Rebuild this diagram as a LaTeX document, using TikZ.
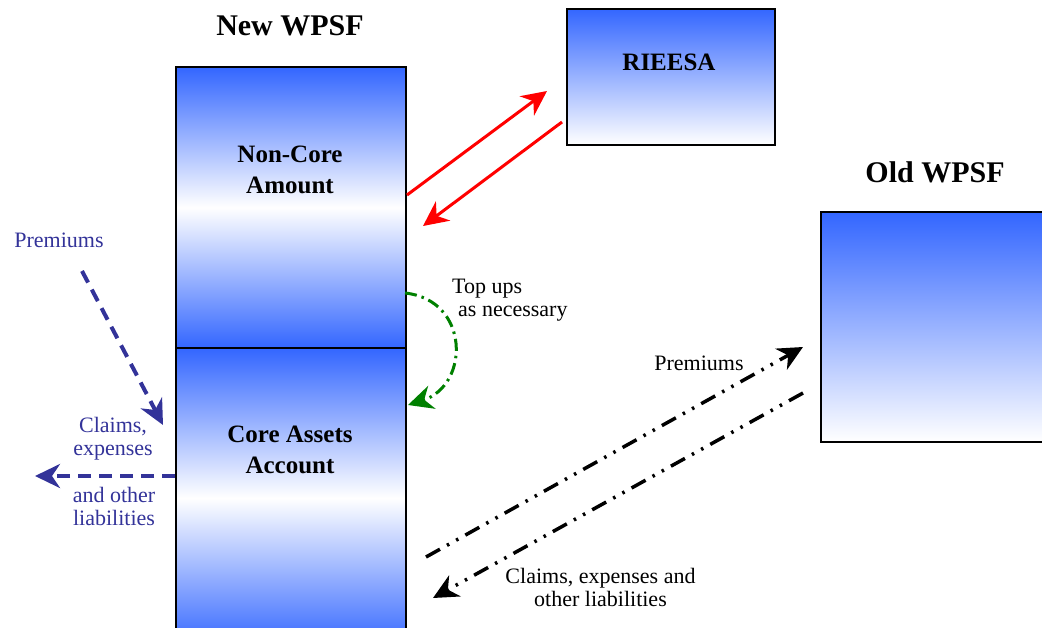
\documentclass[tikz,border=0pt]{standalone}
\usepackage{fontspec}
\setmainfont{Liberation Serif}
\usetikzlibrary{arrows.meta}
\definecolor{fundblue}{RGB}{51,102,255}
\definecolor{flowblue}{RGB}{51,51,153}
\definecolor{flowgreen}{RGB}{0,128,0}
\definecolor{flowred}{RGB}{255,0,0}
\begin{document}
\begin{tikzpicture}[x=1pt,y=-1pt,
  fund/.style={draw=black,line width=2pt,inner sep=0pt,anchor=north west},
  title/.style={font=\fontsize{30}{34}\selectfont\bfseries,inner sep=0pt},
  boxlabel/.style={font=\fontsize{25}{30.5}\selectfont\bfseries,align=center,inner sep=0pt},
  note/.style={font=\fontsize{22}{22.5}\selectfont,align=center,inner sep=0pt},
  tip/.style={-{Stealth[length=25pt,width=24pt,inset=8pt]}},
  redflow/.style={tip,draw=flowred,line width=3pt},
  greenflow/.style={tip,draw=flowgreen,line width=3pt,dash pattern=on 12pt off 5pt on 2.5pt off 5pt},
  blueflow/.style={tip,draw=flowblue,line width=4pt,dash pattern=on 13pt off 8pt},
  blackflow/.style={tip,draw=black,line width=3.5pt,dash pattern=on 16pt off 8pt on 2.5pt off 8pt on 2.5pt off 8pt},
]
\useasboundingbox (0,0) rectangle (1042,627);
\clip (0,0) rectangle (1042,627);

% fund boxes
\node[fund,top color=fundblue,bottom color=fundblue,middle color=white,
      minimum width=230pt,minimum height=281pt] (noncore) at (175,66) {};
\node[fund,top color=fundblue,bottom color=fundblue,middle color=white,
      minimum width=230pt,minimum height=300pt] (core) at (175,347) {};
\node[fund,top color=fundblue,bottom color=white,
      minimum width=208.5pt,minimum height=136.5pt] (rieesa) at (565.5,7.5) {};
\node[fund,top color=fundblue,bottom color=white,
      minimum width=240pt,minimum height=229.5pt] (old) at (820,211) {};

% titles and box labels (base = baseline of the last line)
\node[title,anchor=base] (newtitle) at (290,35) {New WPSF};
\node[title,anchor=base] (oldtitle) at (935,182) {Old WPSF};
\node[boxlabel,anchor=base] (rieesalabel) at (669,70) {RIEESA};
\node[boxlabel,anchor=base] (noncorelabel) at (290,193) {Non-Core\\Amount};
\node[boxlabel,anchor=base] (corelabel) at (290,473) {Core Assets\\Account};

% flow labels
\node[note,text=flowblue,anchor=base] (premin) at (59,247) {Premiums};
\node[note,text=flowblue,anchor=base] (claimsout) at (113,455) {Claims,\\expenses};
\node[note,text=flowblue,anchor=base] (liabout) at (114,525) {and other\\liabilities};
\node[note,align=left,anchor=base west] (topups) at (452,316) {Top ups\\\hspace*{6pt}as necessary};
\node[note,anchor=base] (premold) at (699,370) {Premiums};
\node[note,anchor=base] (claimsold) at (600.5,606) {Claims, expenses and\\other liabilities};

% connector end points
\coordinate (r1a) at (407,195);
\coordinate (r1b) at (547,91);
\coordinate (r2a) at (562,122);
\coordinate (r2b) at (423,226);
\coordinate (g1) at (405,293);
\coordinate (g2) at (408,405);
\coordinate (b1a) at (82,271);
\coordinate (b1b) at (163,425);
\coordinate (b2a) at (175,476);
\coordinate (b2b) at (35,476);
\coordinate (k1a) at (426,557);
\coordinate (k1b) at (803,347);
\coordinate (k2a) at (803,393);
\coordinate (k2b) at (433,598);

% flows
\draw[redflow] (r1a) -- (r1b);
\draw[redflow] (r2a) -- (r2b);
\draw[greenflow] (g1) .. controls +(65,7) and +(62,-20) .. (g2);
\draw[blueflow] (b1a) -- (b1b);
\draw[blueflow] (b2a) -- (b2b);
\draw[blackflow] (k1a) -- (k1b);
\draw[blackflow] (k2a) -- (k2b);
\end{tikzpicture}
\end{document}
